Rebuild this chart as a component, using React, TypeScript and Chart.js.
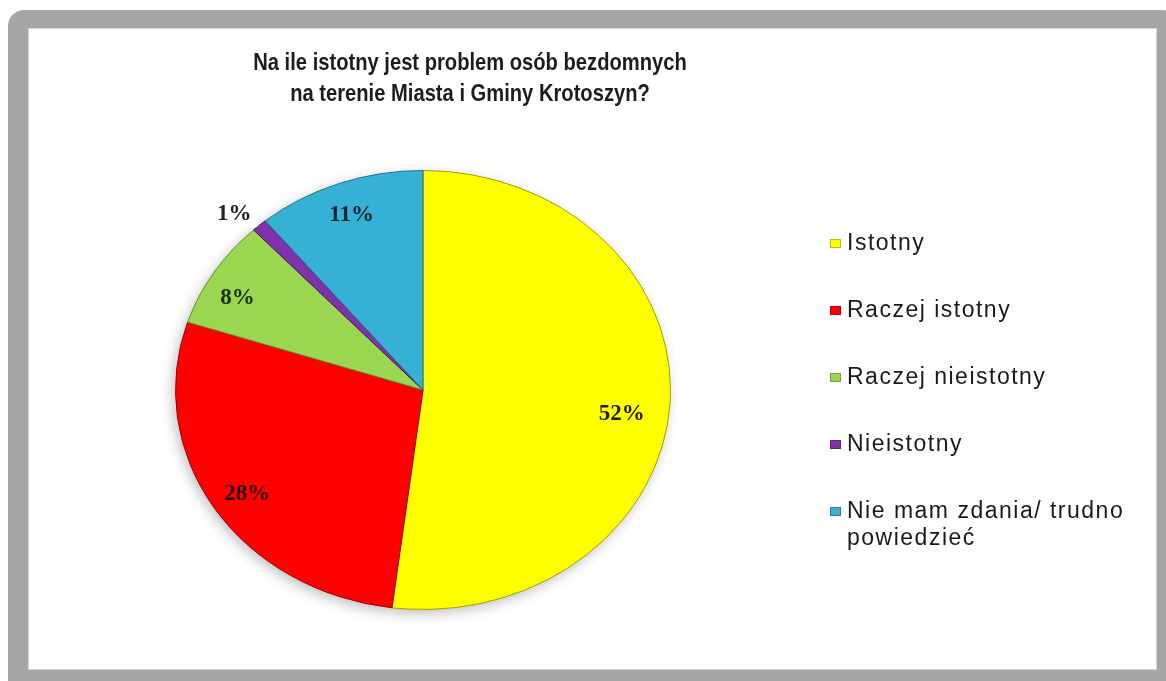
import React, { useEffect, useRef } from "react";
import { Chart, registerables } from "chart.js";

Chart.register(...registerables);

// ---- data ----
const titleLines = [
  "Na ile istotny jest problem osób bezdomnych",
  "na terenie Miasta i Gminy Krotoszyn?",
];
const categories = [
  "Istotny",
  "Raczej istotny",
  "Raczej nieistotny",
  "Nieistotny",
  "Nie mam zdania/ trudno powiedzieć",
];
const legendLines = [
  ["Istotny"],
  ["Raczej istotny"],
  ["Raczej nieistotny"],
  ["Nieistotny"],
  ["Nie mam zdania/ trudno", "powiedzieć"],
];
const shares = [52, 28, 8, 1, 11];
const valueLabels = ["52%", "28%", "8%", "1%", "11%"];

// ---- styles ----
const sliceColors = ["#ffff00", "#ff0000", "#9bd650", "#7e33ac", "#36b0d4"];
const sliceBorders = ["#9a9a00", "#8a0000", "#5d8a2a", "#3e1460", "#1d6f88"];
const labelColors = ["#1e1e00", "#2a0000", "#1a2e00", "#222222", "#0b2530"];
const labelAngleShift = [4, -1, -3, -2, 0];
const labelRadius = [0.81, 0.85, 0.86, 1.11, 0.85];
const labelBg = [null, null, null, "#ffffff", null];
const TILT = 0.887; // vertical squash of the pie (3D tilt look)

const tiltPlugin = {
  id: "tiltPie",
  beforeDatasetsDraw(chart: any) {
    const arc = chart.getDatasetMeta(0).data[0];
    const ctx = chart.ctx;
    ctx.save();
    if (!arc) return;
    const p = arc.getProps(["x", "y", "outerRadius"], true);
    ctx.translate(p.x, p.y);
    ctx.scale(1, TILT);
    ctx.translate(-p.x, -p.y);
    ctx.save();
    ctx.shadowColor = "rgba(0,0,0,0.28)";
    ctx.shadowBlur = 14;
    ctx.shadowOffsetX = -3;
    ctx.shadowOffsetY = 4;
    ctx.beginPath();
    ctx.arc(p.x, p.y, p.outerRadius - 1, 0, Math.PI * 2);
    ctx.fillStyle = "#ffffff";
    ctx.fill();
    ctx.restore();
  },
  afterDatasetsDraw(chart: any) {
    chart.ctx.restore();
  },
};

const sliceLabelPlugin = {
  id: "sliceLabels",
  afterDatasetsDraw(chart: any) {
    const ctx = chart.ctx;
    const meta = chart.getDatasetMeta(0);
    ctx.save();
    ctx.font = "bold 23px 'Liberation Serif', 'Times New Roman', serif";
    ctx.textAlign = "center";
    ctx.textBaseline = "middle";
    meta.data.forEach((arc: any, i: number) => {
      const p = arc.getProps(["x", "y", "startAngle", "endAngle", "outerRadius"], true);
      const mid = (p.startAngle + p.endAngle) / 2 + (labelAngleShift[i] * Math.PI) / 180;
      const r = p.outerRadius * labelRadius[i];
      const x = p.x + Math.cos(mid) * r;
      const y = p.y + Math.sin(mid) * r * TILT;
      const text = valueLabels[i];
      if (labelBg[i]) {
        const w = ctx.measureText(text).width;
        ctx.fillStyle = labelBg[i] as string;
        ctx.fillRect(x - w / 2 - 6, y - 14, w + 12, 28);
      }
      ctx.fillStyle = labelColors[i];
      ctx.fillText(text, x, y + 1);
    });
    ctx.restore();
  },
};

const titlePlugin = {
  id: "squeezedTitle",
  afterDraw(chart: any) {
    const ctx = chart.ctx;
    ctx.save();
    ctx.font = "bold 24px 'Liberation Sans', Arial, sans-serif";
    ctx.textAlign = "center";
    ctx.textBaseline = "alphabetic";
    ctx.fillStyle = "#1c1c1c";
    const cx = 470;
    const baselines = [70, 101];
    titleLines.forEach((line, i) => {
      ctx.save();
      ctx.translate(cx, baselines[i]);
      ctx.scale(0.84, 1);
      ctx.fillText(line, 0, 0);
      ctx.restore();
    });
    ctx.restore();
  },
};

const legendPlugin = {
  id: "sideLegend",
  afterDraw(chart: any) {
    const ctx = chart.ctx;
    const colors = chart.data.datasets[0].backgroundColor as string[];
    ctx.save();
    ctx.font = "23px 'Liberation Sans', Arial, sans-serif";
    (ctx as any).letterSpacing = "1.5px";
    ctx.textAlign = "left";
    ctx.textBaseline = "middle";
    chart.data.labels.forEach((_: string, i: number) => {
      const rowY = 243 + i * 67;
      ctx.fillStyle = colors[i];
      ctx.fillRect(830, rowY - 4, 11, 9);
      ctx.strokeStyle = "rgba(0,0,0,0.25)";
      ctx.lineWidth = 1;
      ctx.strokeRect(830.5, rowY - 3.5, 10, 8);
      ctx.fillStyle = "#1a1a1a";
      legendLines[i].forEach((line, j) => {
        ctx.fillText(line, 847, rowY + 1 + j * 27);
      });
    });
    ctx.restore();
  },
};

export default function App() {
  const canvasRef = useRef<HTMLCanvasElement | null>(null);

  useEffect(() => {
    if (!canvasRef.current) return;
    const chart = new Chart(canvasRef.current, {
      type: "pie",
      data: {
        labels: categories,
        datasets: [
          {
            data: shares,
            backgroundColor: sliceColors,
            borderColor: sliceBorders,
            borderWidth: 1,
          },
        ],
      },
      options: {
        responsive: false,
        animation: false,
        devicePixelRatio: 1,
        layout: { padding: { left: 175, right: 495, top: 142, bottom: 43 } },
        plugins: {
          legend: { display: false },
          title: { display: false },
          tooltip: { enabled: false },
        },
      },
      plugins: [tiltPlugin, sliceLabelPlugin, titlePlugin, legendPlugin],
    });
    return () => chart.destroy();
  }, []);

  return (
    <div
      style={{
        position: "fixed",
        left: 0,
        top: 0,
        width: 1166,
        height: 681,
        background: "#ffffff",
        overflow: "hidden",
      }}
    >
      <div
        style={{
          position: "absolute",
          left: 8,
          top: 10,
          width: 1170,
          height: 690,
          background: "#a6a6a6",
          borderRadius: 16,
        }}
      />
      <div
        style={{
          position: "absolute",
          left: 28,
          top: 28,
          width: 1129,
          height: 642,
          background: "#ffffff",
          boxShadow: "inset 0 0 0 1px #d4d4d4",
        }}
      />
      <canvas
        ref={canvasRef}
        width={1166}
        height={681}
        style={{ position: "absolute", left: 0, top: 0, width: 1166, height: 681 }}
      />
    </div>
  );
}
